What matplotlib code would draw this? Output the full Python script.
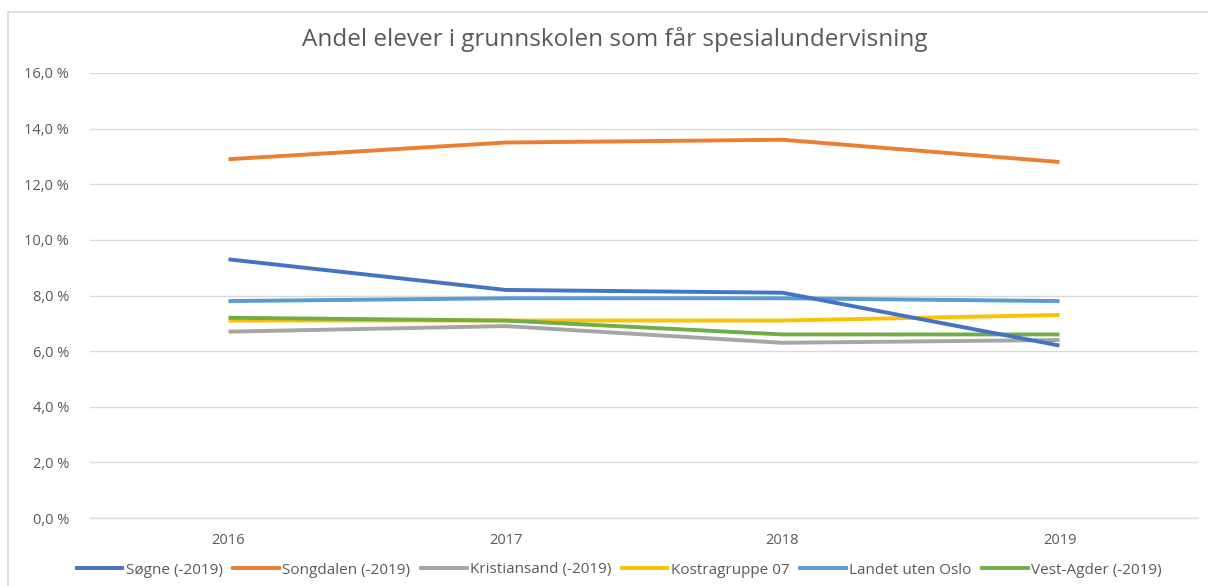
import matplotlib
matplotlib.use("Agg")
import matplotlib.pyplot as plt
from matplotlib.lines import Line2D
from matplotlib.ticker import FuncFormatter

years = ["2016", "2017", "2018", "2019"]
series_names = ["Søgne (-2019)", "Songdalen (-2019)", "Kristiansand (-2019)",
                "Kostragruppe 07", "Landet uten Oslo", "Vest-Agder (-2019)"]
sogne = [9.3, 8.2, 8.1, 6.2]
songdalen = [12.9, 13.5, 13.6, 12.8]
kristiansand = [6.7, 6.9, 6.3, 6.4]
kostra07 = [7.1, 7.1, 7.1, 7.3]
landet = [7.8, 7.9, 7.9, 7.8]
vestagder = [7.2, 7.1, 6.6, 6.6]
colors = ["#4472C4", "#ED7D31", "#A5A5A5", "#FFC000", "#5B9BD5", "#70AD47"]
yticks = [0, 2, 4, 6, 8, 10, 12, 14, 16]

plt.rcParams['font.family'] = ['Open Sans', 'DejaVu Sans']

W, H = 1208, 586
fig = plt.figure(figsize=(W / 100, H / 100), dpi=100)
ax = fig.add_axes([90 / W, 1 - 518 / H, (1198 - 90) / W, (518 - 73) / H])

data = [sogne, songdalen, kristiansand, kostra07, landet, vestagder]
x = list(range(len(years)))
order = [2, 3, 5, 4, 0, 1]
for i in order:
    ax.plot(x, data[i], color=colors[i], lw=2.8, solid_capstyle='butt')

ax.set_xlim(-0.5, 3.5)
ax.set_ylim(0, 16)
ax.set_yticks(yticks)
ax.yaxis.set_major_formatter(FuncFormatter(lambda v, p: f"{v:.1f} %".replace(".", ",")))
ax.set_xticks(x)
ax.set_xticklabels(years)
ax.grid(axis='y', color='#D9D9D9', lw=1)
ax.set_axisbelow(True)
for s in ['top', 'right', 'left']:
    ax.spines[s].set_visible(False)
ax.spines['bottom'].set_color('#D9D9D9')
ax.spines['bottom'].set_linewidth(1)
ax.tick_params(axis='both', length=0, labelsize=10.5, colors='#595959')
ax.tick_params(axis='y', pad=15)
ax.tick_params(axis='x', pad=11)

fig.text(615 / W, 1 - 40 / H, "Andel elever i grunnskolen som får spesialundervisning",
         ha='center', va='center', fontsize=17.5, color='#595959')

handles = [Line2D([0], [0], color=c, lw=2.8) for c in colors]
fig.legend(handles, series_names, loc='center', bbox_to_anchor=(619 / W, 1 - 570 / H),
           ncol=6, frameon=False, fontsize=11, labelcolor='#595959',
           handlelength=3.0, handletextpad=0.2, columnspacing=0.7)

# chart border
fig.add_artist(Line2D([8 / W, 8 / W], [0, 1 - 12 / H], color='#D9D9D9', lw=1.2, transform=fig.transFigure))
fig.add_artist(Line2D([8 / W, 1], [1 - 12 / H, 1 - 12 / H], color='#D9D9D9', lw=1.2, transform=fig.transFigure))

fig.savefig("out.png", dpi=100)
